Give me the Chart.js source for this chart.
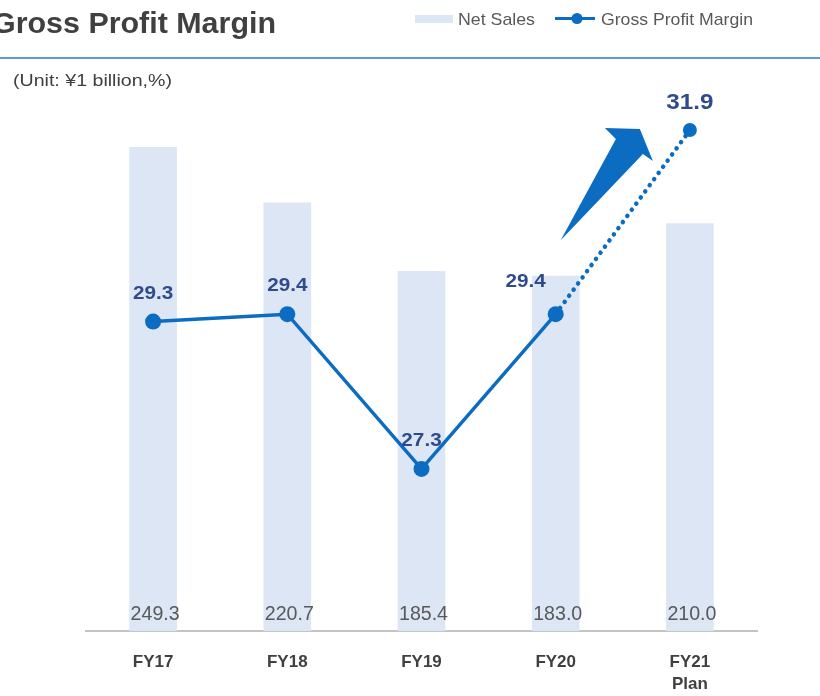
<!DOCTYPE html>
<html>
<head>
<meta charset="utf-8">
<title>Gross Profit Margin</title>
<script src="https://cdn.jsdelivr.net/npm/chart.js@4.4.1/dist/chart.umd.min.js"></script>
<style>
  html, body { margin: 0; padding: 0; background: #fff; }
  #c { display: block; }
</style>
</head>
<body>
<canvas id="c" width="820" height="696"></canvas>
<script>
// data
const categories = [['FY17'], ['FY18'], ['FY19'], ['FY20'], ['FY21', 'Plan']];
const netSales = [249.3, 220.7, 185.4, 183.0, 210.0];
const grossMargin = [29.3, 29.4, 27.3, 29.4, 31.9];

const FONT = '"Liberation Sans", Arial, sans-serif';
const lineBlue = '#0b6cc2';
const barBlue = '#dce6f5';
const labelNavy = '#2f4b8c';

// text drawn with a horizontal stretch (sx) or fitted to a width
function putText(ctx, text, x, y, font, color, align, opt) {
    ctx.save();
    ctx.font = font;
    ctx.fillStyle = color;
    ctx.textBaseline = 'alphabetic';
    ctx.textAlign = align || 'center';
    let sx = (opt && opt.sx) || 1;
    if (opt && opt.width) sx = opt.width / ctx.measureText(text).width;
    ctx.translate(x, y);
    ctx.scale(sx, 1);
    ctx.fillText(text, 0, 0);
    ctx.restore();
}

// titre, legende, etiquettes et fleche
const decorPlugin = {
    id: 'decor',
    afterDraw(chart) {
        const ctx = chart.ctx;
        const w = chart.width;

        // title + rule
        putText(ctx, 'Gross Profit Margin', 276, 33, `bold 29px ${FONT}`, '#404040', 'right', { width: 284 });
        ctx.save();
        ctx.strokeStyle = '#5b9bd5';
        ctx.lineWidth = 2;
        ctx.beginPath();
        ctx.moveTo(0, 58);
        ctx.lineTo(w, 58);
        ctx.stroke();
        ctx.restore();
        putText(ctx, '(Unit: ¥1 billion,%)', 13, 86, `16px ${FONT}`, '#404040', 'left', { width: 159 });

        // legend
        ctx.save();
        ctx.fillStyle = barBlue;
        ctx.fillRect(415, 15, 38, 8);
        ctx.strokeStyle = lineBlue;
        ctx.lineWidth = 3;
        ctx.beginPath();
        ctx.moveTo(555, 18.5);
        ctx.lineTo(595, 18.5);
        ctx.stroke();
        ctx.fillStyle = lineBlue;
        ctx.beginPath();
        ctx.arc(577, 18.5, 5.5, 0, Math.PI * 2);
        ctx.fill();
        ctx.restore();
        putText(ctx, 'Net Sales', 458, 25, `17px ${FONT}`, '#595959', 'left', { width: 77 });
        putText(ctx, 'Gross Profit Margin', 601, 25, `17px ${FONT}`, '#595959', 'left', { width: 152 });

        // net sales values at the foot of the bars
        const bars = chart.getDatasetMeta(1).data;
        bars.forEach((bar, i) => {
            putText(ctx, netSales[i].toFixed(1), bar.x + 2, chart.chartArea.bottom - 11,
                `20px ${FONT}`, '#595959', 'center', { sx: 0.98 });
        });

        // margin values above the points
        const pts = chart.getDatasetMeta(0).data;
        pts.forEach((p, i) => {
            const last = i === pts.length - 1;
            const dx = i === 3 ? -30 : 0;
            const dy = i === 3 ? -27 : (last ? -21 : -23);
            putText(ctx, grossMargin[i].toFixed(1), p.x + dx, p.y + dy,
                `bold ${last ? 22 : 18}px ${FONT}`, labelNavy, 'center', { sx: last ? 1.1 : 1.15 });
        });

        // big arrow between FY20 and the plan
        const a = pts[3], b = pts[4];
        ctx.save();
        ctx.fillStyle = lineBlue;
        ctx.beginPath();
        ctx.moveTo(a.x + 5, a.y - 74);
        ctx.lineTo(b.x - 74, b.y + 9);
        ctx.lineTo(b.x - 85, b.y - 2);
        ctx.lineTo(b.x - 50, b.y - 1);
        ctx.lineTo(b.x - 37, b.y + 31);
        ctx.lineTo(b.x - 47, b.y + 24);
        ctx.closePath();
        ctx.fill();
        ctx.restore();
    }
};

new Chart(document.getElementById('c'), {
    type: 'bar',
    data: {
        labels: categories,
        datasets: [
            {
                type: 'line',
                label: 'Gross Profit Margin',
                data: grossMargin,
                yAxisID: 'y1',
                order: 0,
                borderColor: lineBlue,
                backgroundColor: lineBlue,
                borderWidth: 3.5,
                borderCapStyle: 'round',
                tension: 0,
                pointRadius: [8, 8, 8, 8, 7],
                pointBorderWidth: 0,
                pointBackgroundColor: lineBlue,
                segment: {
                    borderDash: c => c.p0DataIndex === 3 ? [0.1, 7.5] : undefined,
                    borderWidth: c => c.p0DataIndex === 3 ? 4.5 : undefined
                }
            },
            {
                type: 'bar',
                label: 'Net Sales',
                data: netSales,
                yAxisID: 'y',
                order: 1,
                backgroundColor: barBlue,
                barThickness: 47
            }
        ]
    },
    options: {
        responsive: false,
        animation: false,
        devicePixelRatio: 1,
        layout: { padding: { top: 49, left: 86, right: 63, bottom: 0 } },
        plugins: {
            legend: { display: false },
            tooltip: { enabled: false }
        },
        scales: {
            x: {
                grid: { display: false, drawTicks: false },
                border: { display: true, color: '#c4c4c4', width: 2 },
                ticks: {
                    color: '#404040',
                    font: { family: FONT, size: 17, weight: 'bold', lineHeight: 1.3 },
                    padding: 20,
                    maxRotation: 0
                },
                afterFit(scale) { scale.height = 65; }
            },
            y: { display: false, min: 0, max: 300 },
            y1: { display: false, min: 25.1, max: 33.0 }
        }
    },
    plugins: [decorPlugin]
});
</script>
</body>
</html>
